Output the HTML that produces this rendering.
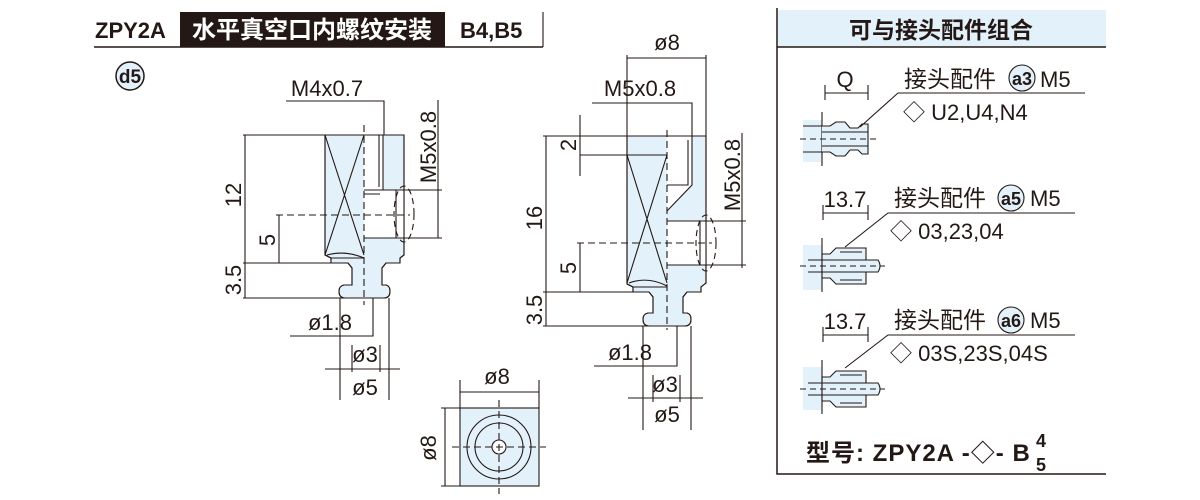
<!DOCTYPE html>
<html><head><meta charset="utf-8"><style>
html,body{margin:0;padding:0;background:#fff;width:1200px;height:500px;overflow:hidden}
svg{display:block}
text{font-family:"Liberation Sans","Noto Sans CJK SC",sans-serif;fill:#231815}
</style></head><body>
<svg width="1200" height="500" viewBox="0 0 1200 500" xmlns="http://www.w3.org/2000/svg">
<g stroke="#231815" fill="none" stroke-width="1.1">
<rect x="180" y="12" width="265" height="35" fill="#231815" stroke="none"/>
<line x1="94" y1="47" x2="543" y2="47" stroke-width="1.5"/>
<line x1="543" y1="12" x2="543" y2="47"/>
<circle cx="130" cy="76" r="14" fill="#e3f1fb" stroke-width="1.5"/>

<path d="M325,135 H404 V255 L400,258 V263 H386 L382,268 V285 H386 Q390,286 390,291 Q390,298 384,298 H345 Q339,298 339,291 Q339,286 344,285 H352 V268 L348,263 H331 V258 L325,255 Z" fill="#e3f1fb"/>
<path d="M364,135 H383 V190 H364 Z M364,190 H404 V238 H364 Z" fill="#fff" stroke="none"/>
<path d="M325,135 H404 V255 L400,258 V263 H386 L382,268 V285 H386 Q390,286 390,291 Q390,298 384,298 H345 Q339,298 339,291 Q339,286 344,285 H352 V268 L348,263 H331 V258 L325,255 Z"/>
<path d="M379,135 V187 M383,135 V190 M364,190 H404 M364,238 H404 M364,194 H380 M396,190 V238"/>
<path d="M325,135 L364,255 M364,135 L325,255 M327,255 Q345,250 364,258 M331,258 H364"/>
<ellipse cx="404" cy="214" rx="10" ry="28" stroke-dasharray="6,4"/>
<line x1="364" y1="125" x2="364" y2="305" stroke-dasharray="7,4"/>
<line x1="276" y1="215" x2="410" y2="215" stroke-dasharray="7,4"/>
<path d="M243,135 H325 M245,135 V298 M243,263 H331 M243,298 H345 M279,215 V263"/>
<path d="M286,101 H384 V135 M404,190 H442 M404,238 H442 M438,100 V238"/>
<path d="M290,336 H373 V298 M325,369 H400 M340,298 V400 M389,298 V400 M352,345 V372 M380,345 V372"/>

<path d="M627,136 H706 V283 L701,287 V292 H687 L683,297 V313 H687 Q691,314 691,319 Q691,326 685,326 H649 Q643,326 643,319 Q643,314 648,313 H653 V297 L649,292 H633 V287 L627,284 Z" fill="#e3f1fb"/>
<path d="M667,136 H692 V185 L667,211 Z M667,221 H706 V265 H667 Z" fill="#fff" stroke="none"/>
<path d="M627,136 H706 V283 L701,287 V292 H687 L683,297 V313 H687 Q691,314 691,319 Q691,326 685,326 H649 Q643,326 643,319 Q643,314 648,313 H653 V297 L649,292 H633 V287 L627,284 Z"/>
<path d="M688,140 V185 H667 M692,136 V185 L667,211 M667,221 H706 M667,265 H706 M700,221 V265"/>
<path d="M627,155 H667 M627,155 L667,283 M667,155 L627,283 M629,283 Q648,276 667,286 M633,287 H667"/>
<ellipse cx="706" cy="243" rx="10" ry="28" stroke-dasharray="6,4"/>
<line x1="667" y1="130" x2="667" y2="330" stroke-dasharray="7,4"/>
<line x1="577" y1="243" x2="712" y2="243" stroke-dasharray="7,4"/>
<path d="M627,55 V136 M706,55 V136 M627,58 H706"/>
<path d="M592,103 H692 V136"/>
<path d="M543,136 H627 M580,115 V176 M580,155 H627 M546,136 V326 M580,243 V292 M543,292 H633 M543,326 H649"/>
<path d="M706,221 H746 M706,265 H746 M742,133 V268"/>
<path d="M594,366 H677 V326 M628,398 H703 M643,326 V430 M691,326 V430 M653,375 V402 M680,375 V402"/>

<rect x="460" y="408" width="79" height="78" fill="#e3f1fb"/>
<circle cx="499" cy="447" r="32"/><circle cx="499" cy="447" r="24"/><circle cx="499" cy="447" r="7" fill="#fff"/>
<path d="M499,400 V494 M452,447 H546" stroke-dasharray="7,4"/>
<path d="M460,380 V408 M539,380 V408 M460,392 H539 M441,408 H460 M441,486 H460 M445,408 V486"/>

<rect x="778" y="10" width="328" height="37" fill="#e3f1fb" stroke="none"/>
<path d="M777,8 V474 H1106 M777,47 H1106" stroke-width="1.5"/>

<rect x="803" y="120" width="19" height="42" fill="#e3f1fb" stroke="none"/>
<path d="M822,112 V166 M803,126 H822 M803,152 H822"/>
<path d="M822,126 H830 L836,122 H845 L850,128 H858 L862,124 H868 V154 H862 L858,150 H850 L845,156 H836 L830,152 H822" fill="#e3f1fb"/>
<path d="M822,132 H868 M822,146 H868"/>
<line x1="800" y1="139" x2="880" y2="139" stroke-dasharray="6,4"/>
<path d="M825,85 V100 M868,85 V100 M825,93 H868 M860,127 L898,93 H1085"/>

<rect x="803" y="245" width="19" height="45" fill="#e3f1fb" stroke="none"/>
<path d="M822,238 V292"/>
<path d="M822,254 H830 L836,248 H866 V260 H878 Q882,266 878,272 H866 V284 H836 L830,278 H822 Z" fill="#e3f1fb"/>
<path d="M808,260 H878 M808,272 H878 M840,252 H862 M840,280 H862"/>
<line x1="800" y1="266" x2="885" y2="266" stroke-dasharray="6,4"/>
<path d="M823,205 V220 M868,205 V220 M823,213 H868 M845,247 L888,213 H1075"/>

<rect x="803" y="367" width="19" height="43" fill="#e3f1fb" stroke="none"/>
<path d="M822,360 V414"/>
<path d="M822,377 H830 L836,371 H866 V383 H878 Q882,389 878,395 H866 V407 H836 L830,401 H822 Z" fill="#e3f1fb"/>
<path d="M808,383 H878 M808,395 H878 M840,375 H862 M840,403 H862"/>
<line x1="800" y1="389" x2="885" y2="389" stroke-dasharray="6,4"/>
<path d="M823,327 V342 M868,327 V342 M823,335 H868 M845,368 L888,335 H1075"/>

<circle cx="1022" cy="78" r="13" fill="#e3f1fb"/>
<circle cx="1011" cy="198" r="13" fill="#e3f1fb"/>
<circle cx="1011" cy="320" r="13" fill="#e3f1fb"/>
</g>

<text x="95" y="38" font-size="22" font-weight="bold">ZPY2A</text>
<text x="192" y="38" font-size="24" font-weight="bold" style="fill:#fff">水平真空口内螺纹安装</text>
<text x="460" y="38" font-size="22" font-weight="bold">B4,B5</text>
<text x="130" y="83" font-size="19" font-weight="bold" text-anchor="middle">d5</text>

<g font-size="22" text-anchor="middle">
<text x="327" y="96">M4x0.7</text>
<text transform="translate(436,147) rotate(-90)">M5x0.8</text>
<text transform="translate(241,195) rotate(-90)">12</text>
<text transform="translate(275,240) rotate(-90)">5</text>
<text transform="translate(241,280) rotate(-90)">3.5</text>
<text x="330" y="330">ø1.8</text>
<text x="365" y="362">ø3</text>
<text x="365" y="395">ø5</text>

<text x="667" y="50">ø8</text>
<text x="640" y="96">M5x0.8</text>
<text transform="translate(576,145) rotate(-90)">2</text>
<text transform="translate(542,218) rotate(-90)">16</text>
<text transform="translate(576,268) rotate(-90)">5</text>
<text transform="translate(542,310) rotate(-90)">3.5</text>
<text transform="translate(740,175) rotate(-90)">M5x0.8</text>
<text x="630" y="360">ø1.8</text>
<text x="665" y="392">ø3</text>
<text x="667" y="422">ø5</text>

<text x="497" y="384">ø8</text>
<text transform="translate(436,448) rotate(-90)">ø8</text>
</g>

<text x="941" y="38" font-size="23" font-weight="bold" text-anchor="middle">可与接头配件组合</text>
<g font-size="22">
<text x="845" y="87" text-anchor="middle">Q</text>
<text x="904" y="87" font-size="23">接头配件</text>
<text x="1022" y="85" font-weight="bold" font-size="18" text-anchor="middle">a3</text>
<text x="1040" y="87">M5</text>
<text x="903" y="120">◇ U2,U4,N4</text>
<text x="845" y="207" text-anchor="middle">13.7</text>
<text x="894" y="206" font-size="23">接头配件</text>
<text x="1011" y="205" font-weight="bold" font-size="18" text-anchor="middle">a5</text>
<text x="1030" y="206">M5</text>
<text x="890" y="239">◇ 03,23,04</text>
<text x="845" y="329" text-anchor="middle">13.7</text>
<text x="894" y="328" font-size="23">接头配件</text>
<text x="1011" y="327" font-weight="bold" font-size="18" text-anchor="middle">a6</text>
<text x="1030" y="328">M5</text>
<text x="890" y="361">◇ 03S,23S,04S</text>
</g>
<text x="806" y="461" font-size="24" font-weight="bold" letter-spacing="1">型号: ZPY2A -◇- B</text>
<text x="1036" y="447" font-size="18" font-weight="bold">4</text>
<text x="1036" y="471" font-size="18" font-weight="bold">5</text>
</svg>
</body></html>
